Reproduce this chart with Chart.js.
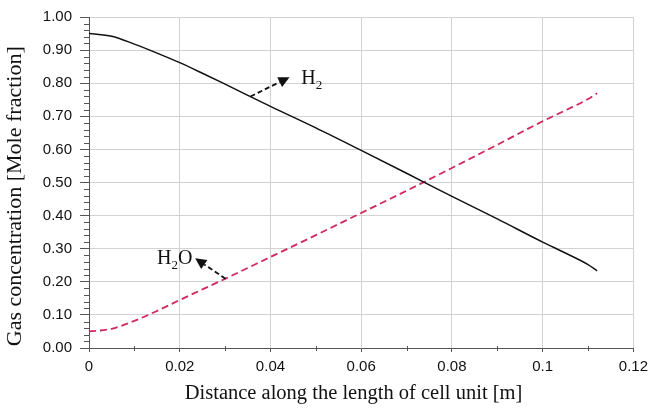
<!DOCTYPE html>
<html>
<head>
<meta charset="utf-8">
<script src="https://cdn.jsdelivr.net/npm/chart.js@4/dist/chart.umd.min.js"></script>
<style>
  html, body { margin: 0; padding: 0; background: #fff; }
  #wrap { width: 654px; height: 410px; }
</style>
</head>
<body>
<div id="wrap"><canvas id="myChart" width="654" height="410"></canvas></div>
<script>
// distance along the cell [m]
const distance = [0, 0.005, 0.01, 0.015, 0.02, 0.025, 0.03, 0.04, 0.05, 0.06, 0.07, 0.08, 0.09, 0.1, 0.105, 0.11, 0.112];
// mole fractions
const h2Values  = [0.95, 0.942, 0.918, 0.891, 0.862, 0.830, 0.797, 0.730, 0.665, 0.597, 0.528, 0.458, 0.390, 0.320, 0.287, 0.252, 0.233];
const h2oValues = [0.05, 0.058, 0.082, 0.112, 0.145, 0.177, 0.209, 0.275, 0.341, 0.408, 0.475, 0.544, 0.614, 0.685, 0.718, 0.752, 0.770];

const xTicks = [0, 0.02, 0.04, 0.06, 0.08, 0.1, 0.12];
const xTickLabels = ['0', '0.02', '0.04', '0.06', '0.08', '0.1', '0.12'];
const xMinorTicks = [0.01, 0.03, 0.05, 0.07, 0.09, 0.11];
const yTicks = [0, 0.1, 0.2, 0.3, 0.4, 0.5, 0.6, 0.7, 0.8, 0.9, 1.0];
const yTickLabels = ['0.00', '0.10', '0.20', '0.30', '0.40', '0.50', '0.60', '0.70', '0.80', '0.90', '1.00'];
const yMinorSteps = [0.02, 0.04, 0.06, 0.08];

// labels with arrows: arrow start, arrow tip, label anchor
const labelH2  = { from: [0.0356, 0.760], to: [0.0442, 0.818], at: [0.0468, 0.82], align: 'left' };
const labelH2O = { from: [0.0301, 0.209], to: [0.0234, 0.271], at: [0.0228, 0.274], align: 'right' };

const axisColor = '#555';
const gridColor = '#d2d2d2';
const serif = '"Liberation Serif", "Times New Roman", serif';

function toPoints(xs, ys) {
  return xs.map((x, i) => ({ x: x, y: ys[i] }));
}

// small ticks between the labelled ones
const minorTicks = {
  id: 'minorTicks',
  afterDraw(chart) {
    const ctx = chart.ctx;
    const xs = chart.scales.x, ys = chart.scales.y;
    const area = chart.chartArea;
    ctx.save();
    ctx.strokeStyle = axisColor;
    ctx.lineWidth = 1;
    ctx.beginPath();
    xMinorTicks.forEach(v => {
      const px = Math.round(xs.getPixelForValue(v)) + 0.5;
      ctx.moveTo(px, area.bottom - 2);
      ctx.lineTo(px, area.bottom + 3);
    });
    yTicks.slice(0, -1).forEach(base => {
      yMinorSteps.forEach(s => {
        const py = Math.round(ys.getPixelForValue(base + s)) + 0.5;
        ctx.moveTo(area.left - 5, py);
        ctx.lineTo(area.left, py);
      });
    });
    ctx.stroke();
    ctx.restore();
  }
};

function drawFormula(ctx, parts, x, y, align) {
  // parts: [text, isSubscript]
  const big = '20px ' + serif;
  const small = '13px ' + serif;
  let total = 0;
  parts.forEach(p => { ctx.font = p[1] ? small : big; total += ctx.measureText(p[0]).width; });
  let cx = align === 'right' ? x - total : x;
  ctx.textAlign = 'left';
  ctx.textBaseline = 'alphabetic';
  parts.forEach(p => {
    ctx.font = p[1] ? small : big;
    ctx.fillText(p[0], cx, p[1] ? y + 5 : y);
    cx += ctx.measureText(p[0]).width;
  });
}

function drawArrow(ctx, x1, y1, x2, y2) {
  const ang = Math.atan2(y2 - y1, x2 - x1);
  const head = 11, half = 5.5;
  const bx = x2 - head * Math.cos(ang), by = y2 - head * Math.sin(ang);
  ctx.setLineDash([5, 3]);
  ctx.lineWidth = 1.8;
  ctx.beginPath();
  ctx.moveTo(x1, y1);
  ctx.lineTo(bx, by);
  ctx.stroke();
  ctx.setLineDash([]);
  ctx.beginPath();
  ctx.moveTo(x2, y2);
  ctx.lineTo(bx + half * Math.sin(ang), by - half * Math.cos(ang));
  ctx.lineTo(bx - half * Math.sin(ang), by + half * Math.cos(ang));
  ctx.closePath();
  ctx.fill();
}

const gasLabels = {
  id: 'gasLabels',
  afterDatasetsDraw(chart) {
    const ctx = chart.ctx;
    const xs = chart.scales.x, ys = chart.scales.y;
    ctx.save();
    ctx.strokeStyle = '#111';
    ctx.fillStyle = '#111';
    [[labelH2, [['H', false], ['2', true]]], [labelH2O, [['H', false], ['2', true], ['O', false]]]].forEach(item => {
      const l = item[0];
      drawArrow(ctx,
        xs.getPixelForValue(l.from[0]), ys.getPixelForValue(l.from[1]),
        xs.getPixelForValue(l.to[0]), ys.getPixelForValue(l.to[1]));
      drawFormula(ctx, item[1], xs.getPixelForValue(l.at[0]), ys.getPixelForValue(l.at[1]) + 7, l.align);
    });
    ctx.restore();
  }
};

const ctx = document.getElementById('myChart').getContext('2d');
const myChart = new Chart(ctx, {
  type: 'line',
  data: {
    datasets: [
      {
        label: 'H2',
        data: toPoints(distance, h2Values),
        borderColor: '#111',
        borderWidth: 1.5,
        pointRadius: 0,
        cubicInterpolationMode: 'monotone'
      },
      {
        label: 'H2O',
        data: toPoints(distance, h2oValues),
        borderColor: '#d2285c',
        borderWidth: 1.8,
        borderDash: [7, 4],
        pointRadius: 0,
        cubicInterpolationMode: 'monotone'
      }
    ]
  },
  options: {
    responsive: false,
    animation: false,
    layout: { padding: { top: 15, right: 17, left: 0, bottom: 0 } },
    plugins: {
      legend: { display: false },
      tooltip: { enabled: false }
    },
    scales: {
      x: {
        type: 'linear',
        min: 0,
        max: 0.12,
        afterBuildTicks: scale => { scale.ticks = xTicks.map(v => ({ value: v })); },
        afterFit: scale => { scale.height = 62; },
        ticks: {
          callback: (value, index) => xTickLabels[index],
          font: { family: '"Liberation Sans", Arial, sans-serif', size: 15 },
          color: '#111',
          padding: 6,
          maxRotation: 0
        },
        grid: { color: gridColor, tickColor: axisColor, tickLength: 4 },
        border: { color: axisColor },
        title: {
          display: true,
          // trailing spaces shift the title a little to the left
          text: 'Distance along the length of cell unit [m]   ',
          font: { family: serif, size: 20.5 },
          color: '#111',
          padding: { top: 4, bottom: 4 }
        }
      },
      y: {
        type: 'linear',
        min: 0,
        max: 1,
        afterBuildTicks: scale => { scale.ticks = yTicks.map(v => ({ value: v })); },
        afterFit: scale => { scale.width = 89; },
        ticks: {
          callback: (value, index) => yTickLabels[index],
          font: { family: '"Liberation Sans", Arial, sans-serif', size: 15 },
          color: '#111',
          padding: 8
        },
        grid: { color: gridColor, tickColor: axisColor, tickLength: 9 },
        border: { color: axisColor },
        title: {
          display: true,
          // trailing spaces nudge the rotated title down a little
          text: 'Gas concentration [Mole fraction]     ',
          font: { family: serif, size: 22 },
          color: '#111',
          padding: { top: 2, bottom: 2 }
        }
      }
    }
  },
  plugins: [minorTicks, gasLabels]
});
</script>
</body>
</html>
